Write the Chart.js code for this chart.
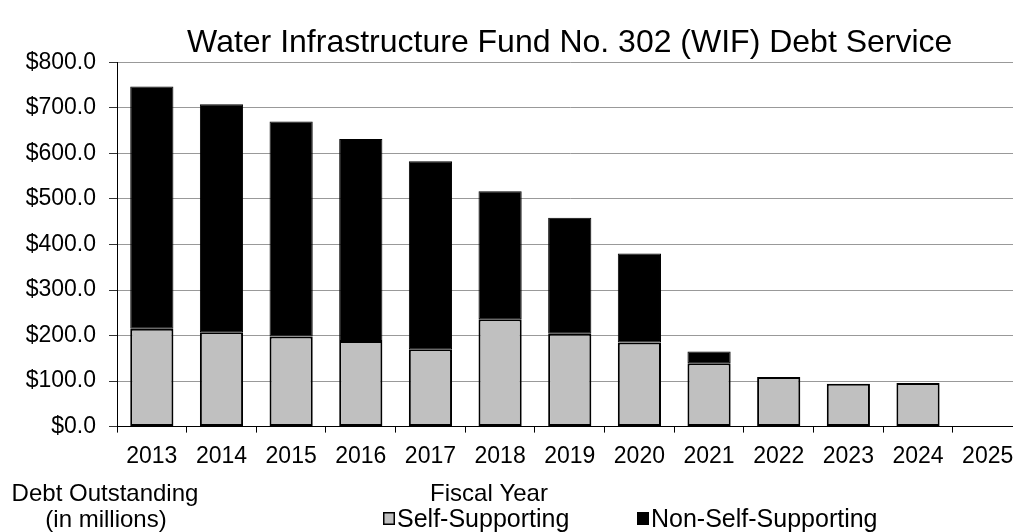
<!DOCTYPE html>
<html>
<head>
<meta charset="utf-8">
<script src="https://cdn.jsdelivr.net/npm/chart.js@4/dist/chart.umd.min.js"></script>
<style>
  body { margin: 0; background: #fff; }
  #wrap { width: 1013px; height: 532px; overflow: hidden; }
</style>
</head>
<body>
<div id="wrap"><canvas id="myChart" width="1050" height="532"></canvas></div>
<script>
// fiscal years on the x axis
var years = ['2013', '2014', '2015', '2016', '2017', '2018', '2019',
             '2020', '2021', '2022', '2023', '2024', '2025'];
// debt outstanding, $ millions
var selfSupporting    = [215, 207, 198, 188, 170, 236, 204, 185, 139, 109, 94, 96, 0];
var nonSelfSupporting = [532, 501, 472, 444, 413, 281, 255, 195, 26, 0, 0, 0, 0];

var FONT = "'Liberation Sans', Arial, sans-serif";
Chart.defaults.font.family = FONT;
Chart.defaults.color = '#000';

// the axis captions and legend sit under the plot, drawn by hand
var bottomText = {
    id: 'bottomText',
    afterDraw: function(chart) {
        var ctx = chart.ctx;
        ctx.save();
        ctx.fillStyle = '#000';
        ctx.font = '24px ' + FONT;
        ctx.textBaseline = 'alphabetic';
        ctx.textAlign = 'center';
        ctx.fillText('Debt Outstanding', 105, 501);
        ctx.fillText('(in millions)', 106, 527);
        ctx.fillText('Fiscal Year', 489, 501);

        ctx.font = '25px ' + FONT;
        ctx.textAlign = 'left';
        var xs = [383, 637];
        chart.data.datasets.forEach(function(ds, i) {
            ctx.fillStyle = ds.backgroundColor;
            ctx.fillRect(xs[i], 512, 12, 13);
            ctx.strokeStyle = '#000';
            ctx.lineWidth = 1.5;
            ctx.strokeRect(xs[i] + 0.75, 512.75, 10.5, 11.5);
            ctx.fillStyle = '#000';
            ctx.fillText(ds.label, xs[i] + 14, 527);
        });
        ctx.restore();
    }
};

var ctx = document.getElementById('myChart').getContext('2d');
var chart = new Chart(ctx, {
    type: 'bar',
    data: {
        labels: years,
        datasets: [{
            label: 'Self-Supporting',
            data: selfSupporting,
            backgroundColor: '#c0c0c0',
            borderColor: '#000',
            borderWidth: 2,
            borderSkipped: false,
        }, {
            label: 'Non-Self-Supporting',
            data: nonSelfSupporting,
            backgroundColor: '#000',
            borderColor: '#000',
            borderWidth: 1,
            borderSkipped: false,
        }]
    },
    options: {
        responsive: false,
        animation: false,
        barPercentage: 0.62,
        categoryPercentage: 1.0,
        layout: {
            padding: { left: 0, right: 27.5, top: 0, bottom: 51.8 }
        },
        plugins: {
            legend: { display: false },
            tooltip: { enabled: false },
            title: {
                display: true,
                fullSize: false,
                text: 'Water Infrastructure Fund No. 302 (WIF) Debt Service',
                color: '#000',
                font: { size: 32, weight: 'normal' },
                padding: { top: 24, bottom: 0 }
            }
        },
        scales: {
            x: {
                stacked: true,
                grid: {
                    offset: true,
                    drawOnChartArea: false,
                    tickLength: 6,
                    tickColor: '#000'
                },
                border: { color: '#000', width: 1 },
                ticks: {
                    font: { size: 23 },
                    color: '#000',
                    padding: 10,
                    maxRotation: 0,
                    autoSkip: false
                }
            },
            y: {
                stacked: true,
                min: 0,
                max: 800,
                afterFit: function(scale) { scale.width = 117; },
                grid: {
                    color: '#999',
                    tickLength: 8,
                    tickColor: '#333'
                },
                border: { color: '#000', width: 1 },
                ticks: {
                    stepSize: 100,
                    font: { size: 23 },
                    color: '#000',
                    padding: 13,
                    callback: function(v) { return '$' + v.toFixed(1); }
                }
            }
        }
    },
    plugins: [bottomText]
});
</script>
</body>
</html>
